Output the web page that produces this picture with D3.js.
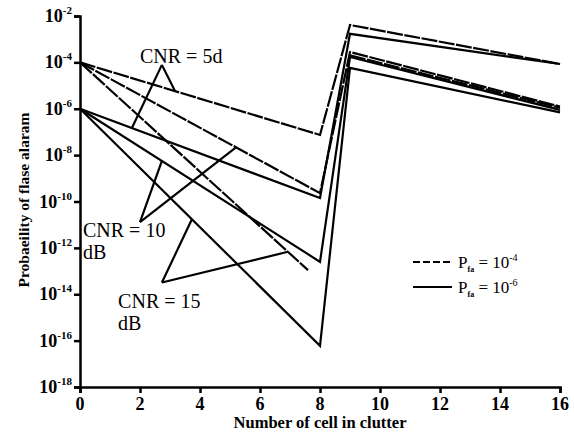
<!DOCTYPE html>
<html>
<head>
<meta charset="utf-8">
<script src="https://cdn.jsdelivr.net/npm/d3@7"></script>
<style>
  body { margin: 0; background: #fff; }
</style>
</head>
<body>
<div id="chart"></div>
<script>
// x positions: number of cells in clutter
const cells = [0, 8, 9, 16];
const cellsShort = [0, 7.6, 8, 9, 16];

// Pfa = 1e-4 (dashed)
const pfa4Cnr5 = [1e-4, 7.4e-8, 4.1e-3, 8.5e-5];
const pfa4Cnr10 = [1e-4, 2.3e-10, 2.8e-4, 1.25e-6];
const pfa4Cnr15 = [1e-4, 1.1e-13, null, 2e-4, 1.1e-6];
// Pfa = 1e-6 (solid)
const pfa6Cnr5 = [1e-6, 1.4e-10, 1.7e-3, 8.5e-5];
const pfa6Cnr10 = [1e-6, 2.5e-13, 1.7e-4, 9e-7];
const pfa6Cnr15 = [1e-6, 6e-17, 5.8e-5, 7e-7];

const yTickExp = [-2, -4, -6, -8, -10, -12, -14, -16, -18];
const xTicks = [0, 2, 4, 6, 8, 10, 12, 14, 16];

const width = 574, height = 438;
const margin = { left: 80, right: 14, top: 16, bottom: 51 };
const FONT = "'Liberation Serif', 'DejaVu Serif', serif";

const svg = d3.select("#chart").append("svg")
  .attr("width", width)
  .attr("height", height)
  .style("font-family", FONT);

const x = d3.scaleLinear().domain([0, 16]).range([margin.left, width - margin.right]);
const y = d3.scaleLog().domain([1e-18, 1e-2]).range([height - margin.bottom, margin.top]);

const series = [
  { xs: cells, ys: pfa4Cnr5, dash: true },
  { xs: cells, ys: pfa4Cnr10, dash: true },
  { xs: cellsShort, ys: pfa4Cnr15, dash: true },
  { xs: cells, ys: pfa6Cnr5, dash: false },
  { xs: cells, ys: pfa6Cnr10, dash: false },
  { xs: cells, ys: pfa6Cnr15, dash: false }
];

const line = d3.line()
  .defined(d => d[1] != null)
  .x(d => x(d[0]))
  .y(d => y(d[1]));

series.forEach(s => {
  svg.append("path")
    .datum(s.xs.map((v, i) => [v, s.ys[i]]))
    .attr("d", line)
    .attr("fill", "none")
    .attr("stroke", "#000")
    .attr("stroke-width", 2.2)
    .attr("stroke-dasharray", s.dash ? "16,1.5" : null);
});

// value of a series at x, interpolated in log space (for pointer targets)
function at(s, xv) {
  for (let i = 0; i < s.xs.length - 1; i++) {
    const a = s.xs[i], b = s.xs[i + 1];
    if (xv >= a && xv <= b && s.ys[i] != null && s.ys[i + 1] != null) {
      const t = (xv - a) / (b - a);
      return Math.pow(10, Math.log10(s.ys[i]) * (1 - t) + Math.log10(s.ys[i + 1]) * t);
    }
  }
  return null;
}

// axes
const yAxis = svg.append("g")
  .attr("transform", `translate(${margin.left},0)`)
  .call(d3.axisLeft(y).tickValues(yTickExp.map(e => Math.pow(10, e))).tickSize(6).tickFormat(""));
const xAxis = svg.append("g")
  .attr("transform", `translate(0,${height - margin.bottom})`)
  .call(d3.axisBottom(x).tickValues(xTicks).tickSize(6).tickFormat(""));
[yAxis, xAxis].forEach(g => {
  g.attr("font-family", null);
  g.select(".domain").attr("stroke", "#000").attr("stroke-width", 2.5);
  g.selectAll(".tick line").attr("stroke", "#000").attr("stroke-width", 2.5);
});

// y tick labels 10^n
yTickExp.forEach(e => {
  const t = svg.append("text")
    .attr("x", margin.left - 8)
    .attr("y", y(Math.pow(10, e)) + 6)
    .attr("text-anchor", "end")
    .style("font-family", FONT)
    .attr("font-size", 18)
    .attr("font-weight", "bold");
  t.append("tspan").text("10");
  t.append("tspan").attr("dy", -8).attr("font-size", 11).text(e);
});

// x tick labels
svg.selectAll(".xlab").data(xTicks).enter().append("text")
  .attr("x", d => x(d))
  .attr("y", height - margin.bottom + 23)
  .attr("text-anchor", "middle")
  .style("font-family", FONT)
  .attr("font-size", 18)
  .attr("font-weight", "bold")
  .text(d => d);

// axis titles
svg.append("text")
  .attr("x", x(8))
  .attr("y", height - 10)
  .attr("text-anchor", "middle")
  .style("font-family", FONT)
  .attr("font-size", 16.5)
  .attr("font-weight", "bold")
  .text("Number of cell in clutter");
svg.append("text")
  .attr("transform", "translate(29,200) rotate(-90)")
  .attr("text-anchor", "middle")
  .style("font-family", FONT)
  .attr("font-size", 15.5)
  .attr("font-weight", "bold")
  .text("Probaeility of flase alaram");

// annotations: label lines, pointer apex and the two series they point at
const notes = [
  { lines: ["CNR = 5d"], tx: 2.0, ty: 9.5e-5, apex: [2.73, 7.8e-5], targets: [[series[0], 3.17], [series[3], 1.73]] },
  { lines: ["CNR = 10", "dB"], tx: 0.1, ty: 3e-12, apex: [2.0, 1.3e-11], targets: [[series[4], 2.73], [series[1], 5.2]] },
  { lines: ["CNR = 15", "dB"], tx: 1.27, ty: 2.5e-15, apex: [2.73, 3.2e-14], targets: [[series[5], 3.73], [series[2], 6.93]] }
];

notes.forEach(n => {
  n.targets.forEach(([s, xv]) => {
    svg.append("line")
      .attr("x1", x(n.apex[0])).attr("y1", y(n.apex[1]))
      .attr("x2", x(xv)).attr("y2", y(at(s, xv)))
      .attr("stroke", "#000").attr("stroke-width", 2.2);
  });
  n.lines.forEach((l, i) => {
    svg.append("text")
      .attr("x", x(n.tx))
      .attr("y", y(n.ty) + i * 22)
      .style("font-family", FONT)
      .attr("font-size", 20)
      .text(l);
  });
});

// legend
const legend = [
  { label: "-4", dash: true },
  { label: "-6", dash: false }
];
legend.forEach((d, i) => {
  const ly = 262 + i * 25;
  svg.append("line")
    .attr("x1", 413).attr("x2", 452)
    .attr("y1", ly).attr("y2", ly)
    .attr("stroke", "#000").attr("stroke-width", 2)
    .attr("stroke-dasharray", d.dash ? "7,3" : null);
  const t = svg.append("text")
    .attr("x", 458).attr("y", ly + 6)
    .style("font-family", FONT)
    .attr("font-size", 17);
  t.append("tspan").text("P");
  t.append("tspan").attr("dy", 4).attr("font-size", 8).attr("font-weight", "bold").text("fa");
  t.append("tspan").attr("dy", -4).text(" = 10");
  t.append("tspan").attr("dy", -7).attr("font-size", 10).text(d.label);
});
</script>
</body>
</html>
